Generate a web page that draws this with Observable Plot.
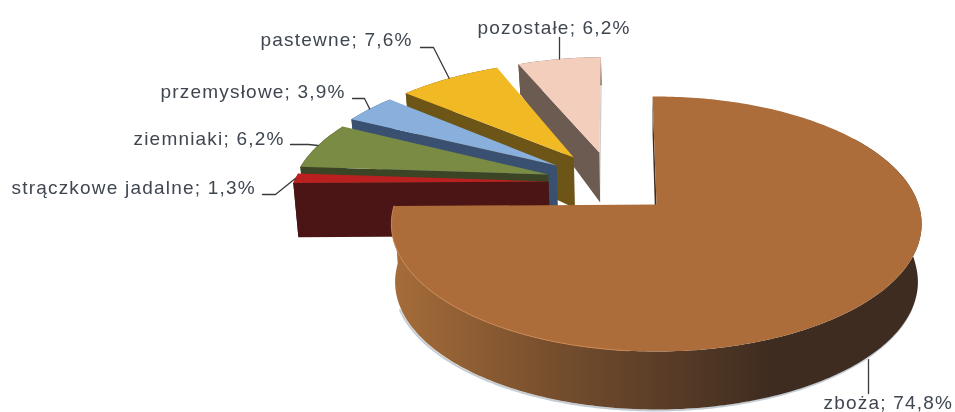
<!DOCTYPE html>
<html><head><meta charset="utf-8">
<script src="https://cdn.jsdelivr.net/npm/d3@7"></script>
<script src="https://cdn.jsdelivr.net/npm/@observablehq/plot@0.6"></script>
<style>
html,body{margin:0;padding:0;background:#fff}
svg{display:block;filter:blur(.55px)}
svg text{letter-spacing:1.2px}
</style></head><body><div id="chart"></div>
<script>
// Chart data
const categories = ["zboża","strączkowe jadalne","ziemniaki","przemysłowe","pastewne","pozostałe"];
const shares = [74.8,1.3,6.2,3.9,7.6,6.2];
const shareLabels = ["74,8%","1,3%","6,2%","3,9%","7,6%","6,2%"];

// Styles and layout
const topColors = ["#ad6d3a","#b9201f","#7a8b43","#89afdc","#f1b923","#f4cebc"];
const wallColors = ["#3f2c20","#4a1514","#3b4526","#3a5070","#6d5518","#6b5b51"];
const explodeU = [0,-.424,-.428,-.40,-.335,-.233];
const explodeV = [0,-.190,-.250,-.329,-.401,-.446];
const startTilt = [-1,0,0,-.5,-1,-1.5];
const endTilt = [0,0,0,-.5,-1,-1.5];
const labelX = [823,11,133,160,260,477];
const labelY = [402,187,138,91,39,27];
const elbowX = [868,275,308,364,433,559];
const elbowY = [393,194,144,98,47,37];
const startX = [868,262,290,352,420,559];
const originX = 656, originY = 204, radiusX = 262, radiusY = 124.5, persp = .153, lean = .014;
const wallHeight = d3.scaleLinear().domain([-1.45,-.45,-.2,.05,1]).range([28,50,54,58,58]).clamp(true);
const shadeStops = [[395,"#a56c39"],[560,"#744d2d"],[770,"#3f2c20"]];

const rad = d => d*Math.PI/180;
function project(u,v,bottom=false){
  const w = 1-persp*v;
  let X = originX+radiusX*u/w, Y = originY+radiusY*v/w;
  if(bottom){ X += (originX-X)*lean; Y += wallHeight(v); }
  return {x:X,y:Y};
}
const total = d3.sum(shares);
let acc = 0;
const slices = categories.map((name,i)=>{
  const a0 = acc/total*360 + startTilt[i];
  acc += shares[i];
  const a1 = acc/total*360 + endTilt[i];
  return {name,i,a0,a1,eu:explodeU[i],ev:explodeV[i]};
});
const rim = (s,a,bottom)=>project(s.eu+Math.sin(rad(a)),s.ev-Math.cos(rad(a)),bottom);
const arcAngles = (a0,a1,step)=>{const n=Math.max(1,Math.round((a1-a0)/step));return d3.range(n+1).map(k=>a0+(a1-a0)*k/n)};

const polys=[]; let pid=0;
const addPoly=(pts,fill)=>{const id=pid++;pts.forEach(p=>polys.push({x:p.x,y:p.y,id,fill}))};
const shadow=[], lip=[];

function drawSlice(s){
  const apexT=project(s.eu,s.ev), apexB=project(s.eu,s.ev,true);
  const angles=arcAngles(s.a0,s.a1,1);
  const top=angles.map(a=>rim(s,a,false));
  if(s.i===5) addPoly([apexT,top[top.length-1],rim(s,s.a1,true),apexB],"#d2cdc9");
  addPoly([apexT,top[0],rim(s,s.a0,true),apexB],wallColors[s.i]);
  if(s.i===0){
    const visible=angles.filter(a=>a>=55);
    addPoly([...visible.map(a=>rim(s,a,false)),...visible.slice().reverse().map(a=>rim(s,a,true))],"url(#wallShade)");
    angles.filter(a=>a>=185).forEach(a=>lip.push(rim(s,a,false)));
    angles.filter(a=>a>=110&&a<=250).forEach(a=>shadow.push(rim(s,a,true)));
  } else {
    addPoly([...top,...angles.slice().reverse().map(a=>rim(s,a,true))],wallColors[s.i]);
  }
  addPoly([apexT,...top],topColors[s.i]);
}
[5,4,3,2,1,0].forEach(i=>drawSlice(slices[i]));

const leaderPts=[];
slices.forEach(s=>{
  const end=rim(s,(s.a0+s.a1)/2,s.i===0);
  const y0=elbowY[s.i];
  if(s.i===0||s.i===5){
    leaderPts.push({x:elbowX[s.i],y:y0,id:s.i},{x:elbowX[s.i],y:end.y,id:s.i});
  } else {
    leaderPts.push({x:startX[s.i],y:y0,id:s.i},{x:elbowX[s.i],y:y0,id:s.i},{x:end.x,y:end.y,id:s.i});
  }
});
const labels=categories.map((c,i)=>({text:`${c}; ${shareLabels[i]}`,x:labelX[i],y:labelY[i]}));

// Horizontal shade of the big slice's outer wall
const wallGradient=()=>{
  const ns="http://www.w3.org/2000/svg";
  const defs=document.createElementNS(ns,"defs");
  const g=document.createElementNS(ns,"linearGradient");
  g.setAttribute("id","wallShade");
  g.setAttribute("gradientUnits","userSpaceOnUse");
  g.setAttribute("x1",shadeStops[0][0]); g.setAttribute("x2",shadeStops[shadeStops.length-1][0]);
  g.setAttribute("y1",0); g.setAttribute("y2",0);
  shadeStops.forEach(([x,c])=>{
    const st=document.createElementNS(ns,"stop");
    st.setAttribute("offset",(x-shadeStops[0][0])/(shadeStops[shadeStops.length-1][0]-shadeStops[0][0]));
    st.setAttribute("stop-color",c); g.append(st);
  });
  defs.append(g); return defs;
};

const plot=Plot.plot({
  width:955,height:412,margin:0,
  x:{domain:[0,955],range:[0,955],axis:null},
  y:{domain:[0,412],range:[0,412],axis:null},
  color:{type:"identity"},
  marks:[
    wallGradient,
    Plot.line(shadow,{x:"x",y:"y",stroke:"#c3ccd4",strokeWidth:2,dx:-1,dy:1}),
    Plot.line(polys,{x:"x",y:"y",z:"id",fill:"fill",stroke:"none",curve:"linear"}),
    Plot.line(lip,{x:"x",y:"y",stroke:"#c98650",strokeWidth:1}),
    Plot.line(leaderPts,{x:"x",y:"y",z:"id",stroke:"#3a3a3a",strokeWidth:1.3}),
    Plot.text(labels,{x:"x",y:"y",text:"text",textAnchor:"start",fill:"#3f4650",fontSize:19,fontFamily:"Liberation Sans"})
  ]
});
document.getElementById("chart").append(plot);
</script></body></html>
